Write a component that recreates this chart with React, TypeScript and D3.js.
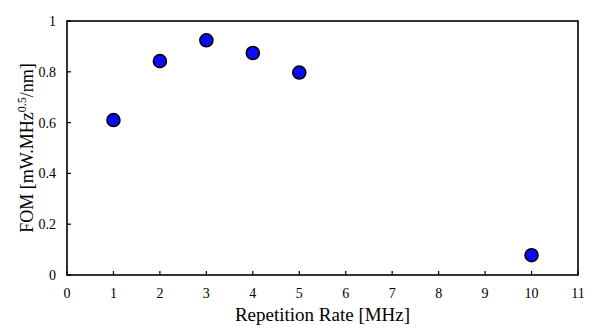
import React from 'react';
import * as d3 from 'd3';

// Repetition rate (MHz) and figure of merit
const rates = [1, 2, 3, 4, 5, 10];
const fom = [0.61, 0.842, 0.924, 0.874, 0.797, 0.078];
const xTicks = [0, 1, 2, 3, 4, 5, 6, 7, 8, 9, 10, 11];
const yTicks = [0, 0.2, 0.4, 0.6, 0.8, 1];

const W = 600;
const H = 332;
const margin = { top: 21, right: 22, bottom: 57, left: 67 };
const font = "'Liberation Serif', 'DejaVu Serif', serif";

const App = () => {
  const x = d3.scaleLinear().domain([0, 11]).range([margin.left, W - margin.right]);
  const y = d3.scaleLinear().domain([0, 1]).range([H - margin.bottom, margin.top]);
  const x0 = x(0), x1 = x(11), y0 = y(0), y1 = y(1);

  return (
    <div style={{ position: 'fixed', left: 0, top: 0, width: W, height: H, background: '#fff' }}>
      <svg width={W} height={H} style={{ display: 'block', fontFamily: font }}>
        <rect x={0} y={0} width={W} height={H} fill="#fff" />
        {/* ticks, drawn inward */}
        {xTicks.map(t => (
          <line key={'xt' + t} x1={x(t)} x2={x(t)} y1={y0} y2={y0 - 4} stroke="#000" strokeWidth={1.2} />
        ))}
        {yTicks.map(t => (
          <line key={'yt' + t} x1={x0} x2={x0 + 4} y1={y(t)} y2={y(t)} stroke="#000" strokeWidth={1.2} />
        ))}
        <rect x={x0} y={y1} width={x1 - x0} height={y0 - y1} fill="none" stroke="#000" strokeWidth={1.6} />
        {xTicks.map(t => (
          <text key={'xl' + t} x={x(t)} y={y0 + 23} textAnchor="middle" fontSize={14}>{t}</text>
        ))}
        {yTicks.map(t => (
          <text key={'yl' + t} x={x0 - 11} y={y(t) + 5} textAnchor="end" fontSize={14}>{t}</text>
        ))}
        <text x={(x0 + x1) / 2} y={y0 + 46} textAnchor="middle" fontSize={19}>Repetition Rate [MHz]</text>
        <text transform={`translate(33,${(y0 + y1) / 2}) rotate(-90)`} textAnchor="middle" fontSize={18}>
          FOM [mW.MHz<tspan dy={-7} fontSize={12}>0.5</tspan><tspan dy={7}>/nm]</tspan>
        </text>
        {rates.map((r, i) => (
          <circle key={'p' + r} cx={x(r)} cy={y(fom[i])} r={6.5} fill="#0a0aff" stroke="#000" strokeWidth={1.6} />
        ))}
      </svg>
    </div>
  );
};

export default App;
